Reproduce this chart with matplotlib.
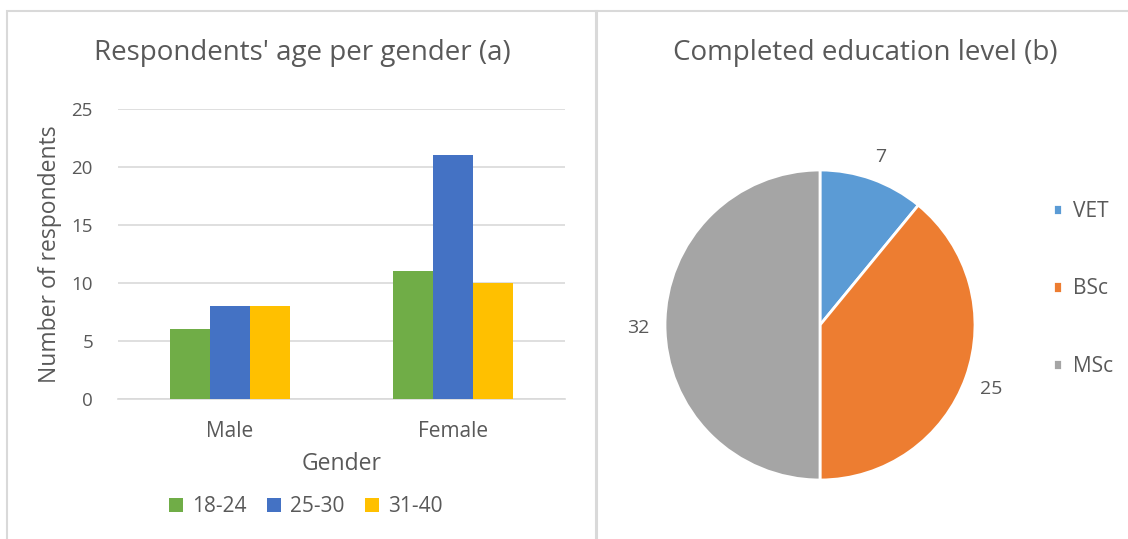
import matplotlib.pyplot as plt
import numpy as np
from matplotlib.patches import Rectangle

# chart data
genders = ["Male", "Female"]
age_groups = ["18-24", "25-30", "31-40"]
age_counts = {
    "18-24": [6, 11],
    "25-30": [8, 21],
    "31-40": [8, 10],
}
age_colors = ["#70AD47", "#4472C4", "#FFC000"]

edu_levels = ["VET", "BSc", "MSc"]
edu_counts = [7, 25, 32]
edu_colors = ["#5B9BD5", "#ED7D31", "#A5A5A5"]

TXT = "#595959"
W, H = 1128, 539
plt.rcParams['font.family'] = ['Open Sans', 'DejaVu Sans']

fig = plt.figure(figsize=(W / 100, H / 100), dpi=100)

def px(x0, y0, x1, y1):
    # pixel box (top-left origin) -> figure fraction rect
    return [x0 / W, 1 - y1 / H, (x1 - x0) / W, (y1 - y0) / H]

# panel borders
for x0, x1 in [(7, 597), (596, 1140)]:
    fig.patches.append(Rectangle((x0 / W, -0.05), (x1 - x0) / W, 1 - 11 / H + 0.05,
                                 transform=fig.transFigure, fill=False,
                                 edgecolor="#D9D9D9", linewidth=1.5))

# ---- bar chart (a)
ax = fig.add_axes(px(118, 109, 565, 399))
x = np.arange(len(genders))
bw = 0.179
for i, (grp, col) in enumerate(zip(age_groups, age_colors)):
    ax.bar(x + (i - 1) * bw, age_counts[grp], bw, color=col, label=grp, zorder=3)
ax.set_xlim(-0.5, 1.5)
ax.set_ylim(0, 25)
ax.set_yticks(range(0, 26, 5))
ax.set_xticks(x)
ax.set_xticklabels(genders)
ax.yaxis.grid(True, color="#D9D9D9", linewidth=1.2, zorder=0)
for s in ["top", "right", "left"]:
    ax.spines[s].set_visible(False)
ax.spines["bottom"].set_color("#D9D9D9")
ax.spines["bottom"].set_linewidth(1.2)
ax.tick_params(length=0, colors=TXT)
ax.tick_params(axis="y", labelsize=13.5, pad=18)
ax.tick_params(axis="x", labelsize=15, pad=16)
ax.set_ylabel("Number of respondents", fontsize=16.5, color=TXT, labelpad=7)
ax.set_xlabel("Gender", fontsize=16.5, color=TXT, labelpad=7)
fig.text(302 / W, 1 - 53 / H, "Respondents' age per gender (a)", ha="center", va="center",
         fontsize=20, color=TXT)
leg = fig.legend(loc="center", bbox_to_anchor=(306 / W, 1 - 507 / H), ncol=3, frameon=False,
                 fontsize=15, handlelength=0.65, handleheight=0.65, handletextpad=0.45,
                 columnspacing=1.0)
for t in leg.get_texts():
    t.set_color(TXT)

# ---- pie chart (b)
ax2 = fig.add_axes(px(665, 170, 975, 480))
wedges, _ = ax2.pie(edu_counts, colors=edu_colors, startangle=90, counterclock=False,
                    wedgeprops=dict(edgecolor="white", linewidth=2))
ax2.set_xlim(-1, 1)
ax2.set_ylim(-1, 1)
ax2.set_aspect("equal")
# value labels outside the slices
cum = np.cumsum([0] + edu_counts[:-1])
tot = sum(edu_counts)
for c, v in zip(cum, edu_counts):
    ang = np.deg2rad(90 - 360 * (c + v / 2) / tot)
    r = 1.17
    ax2.text(r * np.cos(ang), r * np.sin(ang) - 0.02, str(v), ha="center", va="center",
             fontsize=14, color=TXT)
fig.text(865 / W, 1 - 53 / H, "Completed education level (b)", ha="center", va="center",
         fontsize=20, color=TXT)
leg2 = fig.legend(wedges, edu_levels, loc="center left", bbox_to_anchor=(1034 / W, 1 - 289 / H),
                  frameon=False, fontsize=15, handlelength=0.45, handleheight=0.45,
                  handletextpad=0.5, labelspacing=2.7)
for t in leg2.get_texts():
    t.set_color(TXT)

fig.savefig("out.png", dpi=100)
